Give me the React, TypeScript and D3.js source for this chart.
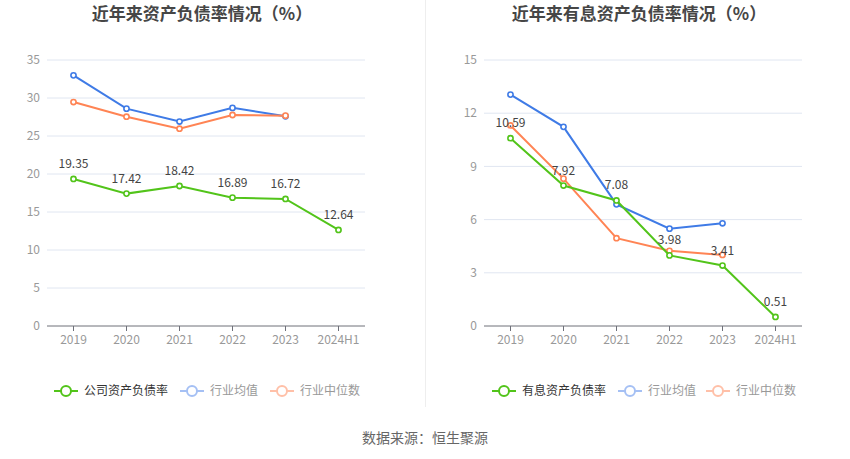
import { useEffect } from "react";
import * as d3 from "d3";

const years = ["2019", "2020", "2021", "2022", "2023", "2024H1"];

// 左图：资产负债率
const companyDebt = [19.35, 17.42, 18.42, 16.89, 16.72, 12.64];
const industryAvgDebt = [32.98, 28.6, 26.9, 28.7, 27.6];
const industryMedDebt = [29.47, 27.54, 25.96, 27.76, 27.68];
const debtTicks = [0, 5, 10, 15, 20, 25, 30, 35];

// 右图：有息资产负债率
const companyIbd = [10.59, 7.92, 7.08, 3.98, 3.41, 0.51];
const industryAvgIbd = [13.05, 11.23, 6.86, 5.49, 5.79];
const industryMedIbd = [11.31, 8.31, 4.95, 4.24, 4.01];
const ibdTicks = [0, 3, 6, 9, 12, 15];

const GREEN = "#52c41a";
const BLUE = "#3f7be6";
const ORANGE = "#ff8454";
const BLUE_OFF = "#a5c0f4";
const ORANGE_OFF = "#ffc0a8";
const FONT = "'Noto Sans CJK SC', 'Noto Sans', sans-serif";

type PanelProps = {
  left: number;
  right: number;
  title: string;
  ticks: number[];
  company: number[];
  avg: number[];
  med: number[];
  legendX: number[];
  companyName: string;
};

function Panel({ left, right, title, ticks, company, avg, med, legendX, companyName }: PanelProps) {
  const top = 60;
  const bottom = 326;
  const x = d3.scaleBand<string>().domain(years).range([left, right]);
  const cx = (i: number) => (x(years[i]) ?? 0) + x.bandwidth() / 2;
  const y = d3.scaleLinear().domain([0, d3.max(ticks) ?? 1]).range([bottom, top]);
  const line = d3
    .line<number>()
    .x((_, i) => cx(i))
    .y((d) => y(d));

  const series = [
    { data: avg, color: BLUE },
    { data: med, color: ORANGE },
    { data: company, color: GREEN },
  ];

  const legend = [
    { name: companyName, color: GREEN, text: "#333" },
    { name: "行业均值", color: BLUE_OFF, text: "#999" },
    { name: "行业中位数", color: ORANGE_OFF, text: "#999" },
  ];

  return (
    <g>
      <text
        x={(left + right) / 2 - 4}
        y={20}
        textAnchor="middle"
        fontSize={17}
        fontWeight="bold"
        fill="#464646"
      >
        {title}
      </text>
      {ticks.map((t) => (
        <g key={t}>
          {t > 0 && <line x1={left} x2={right} y1={y(t)} y2={y(t)} stroke="#e0e6f1" />}
          <text x={left - 7} y={y(t)} dy="0.35em" textAnchor="end" fontSize={12} fill="#999">
            {t}
          </text>
        </g>
      ))}
      <line x1={left} x2={right} y1={bottom} y2={bottom} stroke="#6e7079" />
      {years.map((yr, i) => (
        <g key={yr}>
          <line x1={cx(i)} x2={cx(i)} y1={bottom} y2={bottom + 5} stroke="#6e7079" />
          <text x={cx(i)} y={bottom + 14} dy="0.35em" textAnchor="middle" fontSize={12} fill="#999">
            {yr}
          </text>
        </g>
      ))}
      {series.map((s, k) => (
        <g key={k}>
          <path d={line(s.data) ?? ""} fill="none" stroke={s.color} strokeWidth={2} />
          {s.data.map((v, i) => (
            <circle key={i} cx={cx(i)} cy={y(v)} r={2.6} fill="#fff" stroke={s.color} strokeWidth={1.6} />
          ))}
        </g>
      ))}
      {company.map((v, i) => (
        <text key={i} x={cx(i)} y={y(v) - 11} textAnchor="middle" fontSize={12} fill="#444">
          {v.toFixed(2)}
        </text>
      ))}
      {legend.map((l, i) => (
        <g key={l.name} transform={`translate(${legendX[i]},391)`}>
          <line x1={0} x2={24} y1={0} y2={0} stroke={l.color} strokeWidth={2} />
          <circle cx={12} cy={0} r={5} fill="#fff" stroke={l.color} strokeWidth={2} />
          <text x={30} y={0} dy="0.35em" fontSize={12} fill={l.text}>
            {l.name}
          </text>
        </g>
      ))}
    </g>
  );
}

export default function App() {
  useEffect(() => {
    document.body.style.margin = "0";
  }, []);

  return (
    <svg
      width={850}
      height={459}
      style={{ position: "absolute", left: 0, top: 0, fontFamily: FONT }}
    >
      <rect width={850} height={459} fill="#fff" />
      <line x1={425.5} x2={425.5} y1={0} y2={407} stroke="#eeeeee" />
      <Panel
        left={47}
        right={365}
        title="近年来资产负债率情况（%）"
        ticks={debtTicks}
        company={companyDebt}
        avg={industryAvgDebt}
        med={industryMedDebt}
        legendX={[54, 180, 270]}
        companyName="公司资产负债率"
      />
      <Panel
        left={484}
        right={802}
        title="近年来有息资产负债率情况（%）"
        ticks={ibdTicks}
        company={companyIbd}
        avg={industryAvgIbd}
        med={industryMedIbd}
        legendX={[492, 618, 706]}
        companyName="有息资产负债率"
      />
      <text x={425} y={438} dy="0.35em" textAnchor="middle" fontSize={14} fill="#666">
        数据来源：恒生聚源
      </text>
    </svg>
  );
}
